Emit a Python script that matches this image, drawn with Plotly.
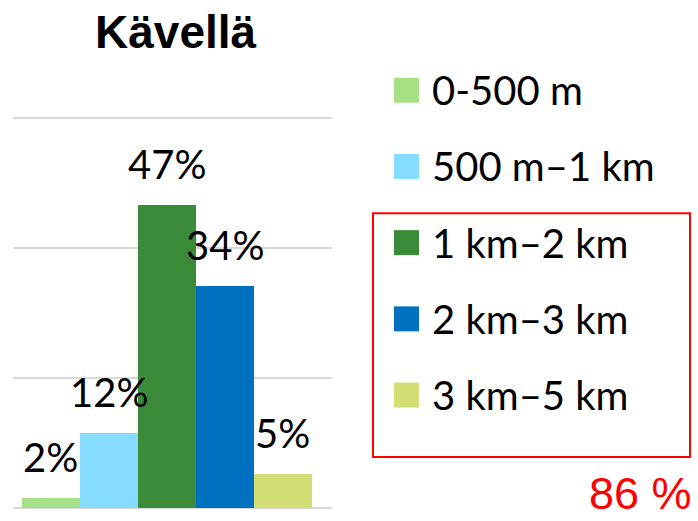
import plotly.graph_objects as go

# ---- data ----
title_text = "Kävellä"
categories = ["0-500 m", "500 m–1 km", "1 km–2 km", "2 km–3 km", "3 km–5 km"]
values = [1.6, 11.6, 46.7, 34.2, 5.2]
colors = ["#A6E086", "#86DDFF", "#3A8A37", "#0070C0", "#D3DF74"]
highlight_text = "86 %"

# ---- layout geometry (pixels) ----
FIG_W, FIG_H = 698, 521
Y_MAX = 60.5
PX_PER_UNIT = 6.5
L, R_PX, B_PX = 13, 332, 508
T_PX = B_PX - Y_MAX * PX_PER_UNIT
W, H = R_PX - L, B_PX - T_PX


def px_x(p):
    return (p - L) / W


def px_y(p):
    return (B_PX - p) / H


LABEL_FONT = dict(family="Lato, Carlito, Calibri, sans-serif", size=40, color="#000000")

fig = go.Figure()
fig.add_trace(go.Bar(
    x=categories, y=values,
    marker=dict(color=colors, line=dict(width=0)),
    showlegend=False, hoverinfo="skip",
))

annotations = []
# data labels
for c, v in zip(categories, values):
    annotations.append(dict(
        x=c, y=v, xref="x", yref="y", text=f"{v:.0f}%", showarrow=False,
        yshift=41, xanchor="center", yanchor="middle", font=LABEL_FONT,
    ))

shapes = []
# manual legend
for i, (c, col) in enumerate(zip(categories, colors)):
    cy = 90 + i * 76.25
    shapes.append(dict(
        type="rect", xref="paper", yref="paper",
        x0=px_x(394), x1=px_x(419), y0=px_y(cy - 12.5), y1=px_y(cy + 12.5),
        fillcolor=col, line=dict(width=0),
    ))
    annotations.append(dict(
        x=px_x(430), y=px_y(cy), xref="paper", yref="paper", text=c,
        showarrow=False, xanchor="left", yanchor="middle", font=LABEL_FONT,
    ))

# red box
shapes.append(dict(
    type="rect", xref="paper", yref="paper",
    x0=px_x(373), x1=px_x(690), y0=px_y(457), y1=px_y(213),
    line=dict(color="#FF0000", width=2), fillcolor="rgba(0,0,0,0)",
))
annotations.append(dict(
    x=px_x(694), y=px_y(493), xref="paper", yref="paper", text=highlight_text,
    showarrow=False, xanchor="right", yanchor="middle",
    font=dict(family="Liberation Sans, Arial, sans-serif", size=45, color="#FF0000"),
))
# title
annotations.append(dict(
    x=px_x(176), y=px_y(32), xref="paper", yref="paper", text=f"<b>{title_text}</b>",
    showarrow=False, xanchor="center", yanchor="middle",
    font=dict(family="Liberation Sans, Arial, sans-serif", size=46, color="#000000"),
))

fig.update_layout(
    width=FIG_W, height=FIG_H,
    margin=dict(l=L, r=FIG_W - R_PX, t=T_PX, b=FIG_H - B_PX, pad=0),
    paper_bgcolor="white", plot_bgcolor="white",
    bargap=0, showlegend=False,
    xaxis=dict(type="category", range=[-0.655, 4.845], showticklabels=False,
               showgrid=False, zeroline=False, showline=False, fixedrange=True),
    yaxis=dict(range=[0, Y_MAX], dtick=20, tick0=0, showticklabels=False,
               showgrid=True, gridcolor="#D9D9D9", gridwidth=2,
               zeroline=True, zerolinecolor="#D9D9D9", zerolinewidth=2,
               showline=False, fixedrange=True),
    annotations=annotations, shapes=shapes,
)

fig.write_html(
    "out.html",
    config={"displayModeBar": False},
    post_script="document.body.style.margin='0';document.body.style.overflow='hidden';",
)
